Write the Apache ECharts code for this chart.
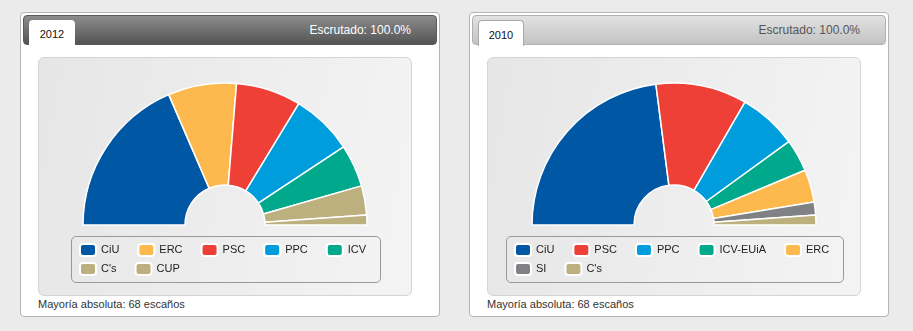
<!DOCTYPE html>
<html>
<head>
<meta charset="utf-8">
<script src="https://cdn.jsdelivr.net/npm/echarts@6/dist/echarts.min.js"></script>
<style>
  html, body { margin: 0; padding: 0; }
  body { width: 913px; height: 331px; overflow: hidden; background: #ebebeb; position: relative;
         font-family: 'Liberation Sans', Arial, sans-serif; }
  .panel { position: absolute; top: 12px; width: 420px; height: 305px; box-sizing: border-box;
           border: 1px solid #b4b4b4; border-radius: 4px; background: #fff; }
  .head { position: absolute; left: 2px; top: 2px; width: 414px; height: 30px; box-sizing: border-box;
          border-radius: 4px; }
  .head.dark { background: linear-gradient(#8c8c8c, #545454); border: 1px solid #5a5a5a; }
  .head.light { background: linear-gradient(#e2e2e2, #c3c3c3); border: 1px solid #b0b0b0; }
  .tab { position: absolute; left: 5px; top: 4px; width: 46px; height: 26px; box-sizing: border-box;
         background: #fff; border-radius: 4px 4px 0 0; font-size: 11px; color: #111;
         text-align: center; line-height: 24px; padding-top: 2px; }
  .head.light .tab { border: 1px solid #aaa; border-bottom: none; }
  .escr { position: absolute; right: 25px; top: 0; line-height: 28px; font-size: 12px; }
  .head.dark .escr { color: #fff; }
  .head.light .escr { color: #555; }
  .plot { position: absolute; left: 17px; top: 44px; width: 374px; height: 239px; box-sizing: border-box;
          border: 1px solid #d4d4d4; border-radius: 6px;
          background: linear-gradient(100deg, #e6e6e6, #f4f4f4); }
  .legbox { position: absolute; top: 223px; height: 47px; box-sizing: border-box;
            border: 1px solid #999; border-radius: 5px; }
  .note { position: absolute; left: 17px; top: 284px; font-size: 11px; color: #333; line-height: 14px; }
  #chart { position: absolute; left: 0; top: 0; width: 913px; height: 331px; }
</style>
</head>
<body>
<div class="panel" style="left:20px">
  <div class="head dark"><div class="tab">2012</div><div class="escr">Escrutado: 100.0%</div></div>
  <div class="plot"></div>
  <div class="legbox" style="left:50px;width:310px"></div>
  <div class="note">Mayoría absoluta: 68 escaños</div>
</div>
<div class="panel" style="left:469px">
  <div class="head light"><div class="tab">2010</div><div class="escr">Escrutado: 100.0%</div></div>
  <div class="plot"></div>
  <div class="legbox" style="left:36px;width:338px"></div>
  <div class="note">Mayoría absoluta: 68 escaños</div>
</div>
<div id="chart"></div>
<script>
// Seats in the Parliament of Catalonia
const parties2012 = ['CiU', 'ERC', 'PSC', 'PPC', 'ICV', "C's", 'CUP'];
const seats2012   = [50, 21, 20, 19, 13, 9, 3];
const colors2012  = ['#0057a3', '#fdb94e', '#ee4037', '#009ddd', '#00a98b', '#bcb07f', '#bcb07f'];

const parties2010 = ['CiU', 'PSC', 'PPC', 'ICV-EUiA', 'ERC', 'SI', "C's"];
const seats2010   = [62, 28, 18, 10, 10, 4, 3];
const colors2010  = ['#0057a3', '#ee4037', '#009ddd', '#00a98b', '#fdb94e', '#808184', '#bcb07f'];

function sliceData(names, values, colors) {
  return names.map((n, i) => ({ name: n, value: values[i], itemStyle: { color: colors[i] } }));
}

function hemicycle(center, names, values, colors) {
  return {
    type: 'pie',
    center: center,
    radius: [40, 142],
    startAngle: 180,
    endAngle: 0,
    clockwise: true,
    silent: true,
    label: { show: false },
    labelLine: { show: false },
    itemStyle: { borderColor: '#ffffff', borderWidth: 1.5 },
    data: sliceData(names, values, colors)
  };
}

const legendFont = { fontFamily: "'Liberation Sans', Arial, sans-serif",
                     fontSize: 11, color: '#222', lineHeight: 12 };

function legendRow(names, left, top) {
  return {
    data: names, left: left, top: top, orient: 'horizontal', padding: 0,
    itemWidth: 16, itemHeight: 12, itemGap: 18, icon: 'roundRect',
    selectedMode: false, textStyle: legendFont
  };
}

const chart = echarts.init(document.getElementById('chart'), null, { renderer: 'canvas' });
chart.setOption({
  backgroundColor: 'transparent',
  animation: false,
  legend: [
    legendRow(parties2012.slice(0, 5), 79, 243),
    legendRow(parties2012.slice(5), 79, 262),
    legendRow(parties2010.slice(0, 5), 514, 243),
    legendRow(parties2010.slice(5), 514, 262)
  ],
  series: [
    hemicycle([225, 225], parties2012, seats2012, colors2012),
    hemicycle([674, 225], parties2010, seats2010, colors2010)
  ]
});
</script>
</body>
</html>
